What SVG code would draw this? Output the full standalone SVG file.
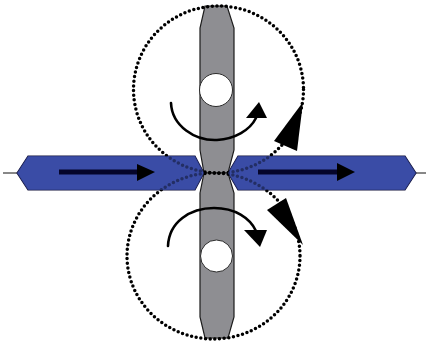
<svg xmlns="http://www.w3.org/2000/svg" width="426" height="343" viewBox="0 0 426 343">
<defs><style>
.roll{fill:#8e8e92;stroke:#1c1c1c;stroke-width:1.2}
.strip{fill:#3a4da6;stroke:#14143c;stroke-width:1.2}
.veil{fill:#3a4da6;fill-opacity:.6;stroke:none}
.hole{fill:#fff;stroke:#2b2b2b;stroke-width:1}
.path{fill:none;stroke:#000;stroke-width:3.5;stroke-dasharray:0 4.7;stroke-linecap:round}
.turn{fill:none;stroke:#000;stroke-width:2.6;stroke-linecap:round}
.shaft{stroke:#05052a;stroke-width:5}
.lead{stroke:#111;stroke-width:1}
</style></defs>
<rect width="426" height="343" fill="#fff"/>
<g id="lead-lines">
<line class="lead" x1="3" y1="173" x2="18" y2="173"/>
<line class="lead" x1="415" y1="173" x2="426" y2="173"/>
</g>
<g id="strip-left"><polygon class="strip" points="17,173 28,156 195,156 204,173 195,190 28,190"/></g>
<g id="strip-right"><polygon class="strip" points="228,173 238,156 405,156 416,173 405,190 238,190"/></g>
<g id="roll-upper">
<polygon class="roll" points="205,6 227,6 234,28 234,150 228,173 204,173 200,150 200,28"/>
<circle class="hole" cx="216" cy="90" r="16.5"/>
</g>
<g id="roll-lower">
<polygon class="roll" points="204,173 228,173 234,193 234,317 228,338 205,338 200,317 200,193"/>
<circle class="hole" cx="216.500" cy="256" r="16"/>
</g>
<g id="paths">
<ellipse class="path" cx="218.500" cy="89.500" rx="85" ry="83.500"/>
<ellipse class="path" cx="213.500" cy="256" rx="86.500" ry="83"/>
</g>
<g id="veil">
<polygon class="veil" points="17,173 28,156 195,156 204,173 195,190 28,190"/>
<polygon class="veil" points="228,173 238,156 405,156 416,173 405,190 238,190"/>
</g>
<g id="feed-left">
<line class="shaft" x1="59" y1="172" x2="140" y2="172"/>
<polygon points="137,164 155,172 137,181" fill="#000"/>
</g>
<g id="feed-right">
<line class="shaft" x1="258" y1="172" x2="340" y2="172"/>
<polygon points="337,163 355,172 337,181" fill="#000"/>
</g>
<g id="turn-upper">
<path class="turn" d="M171,103 C172,126 195,141 217,140 C235,139 250,130 256,118"/>
<polygon points="259,102 267,118 246,118" fill="#000"/>
</g>
<g id="turn-lower">
<path class="turn" d="M168,246 C169,222 190,208 214,208 C235,208 250,218 256,231"/>
<polygon points="244,230 267,230 260,247" fill="#000"/>
</g>
<g id="direction-upper"><polygon points="303,102 274,141 297,151" fill="#000"/></g>
<g id="direction-lower"><polygon points="286,198 267,210 303,245" fill="#000"/></g>
</svg>
